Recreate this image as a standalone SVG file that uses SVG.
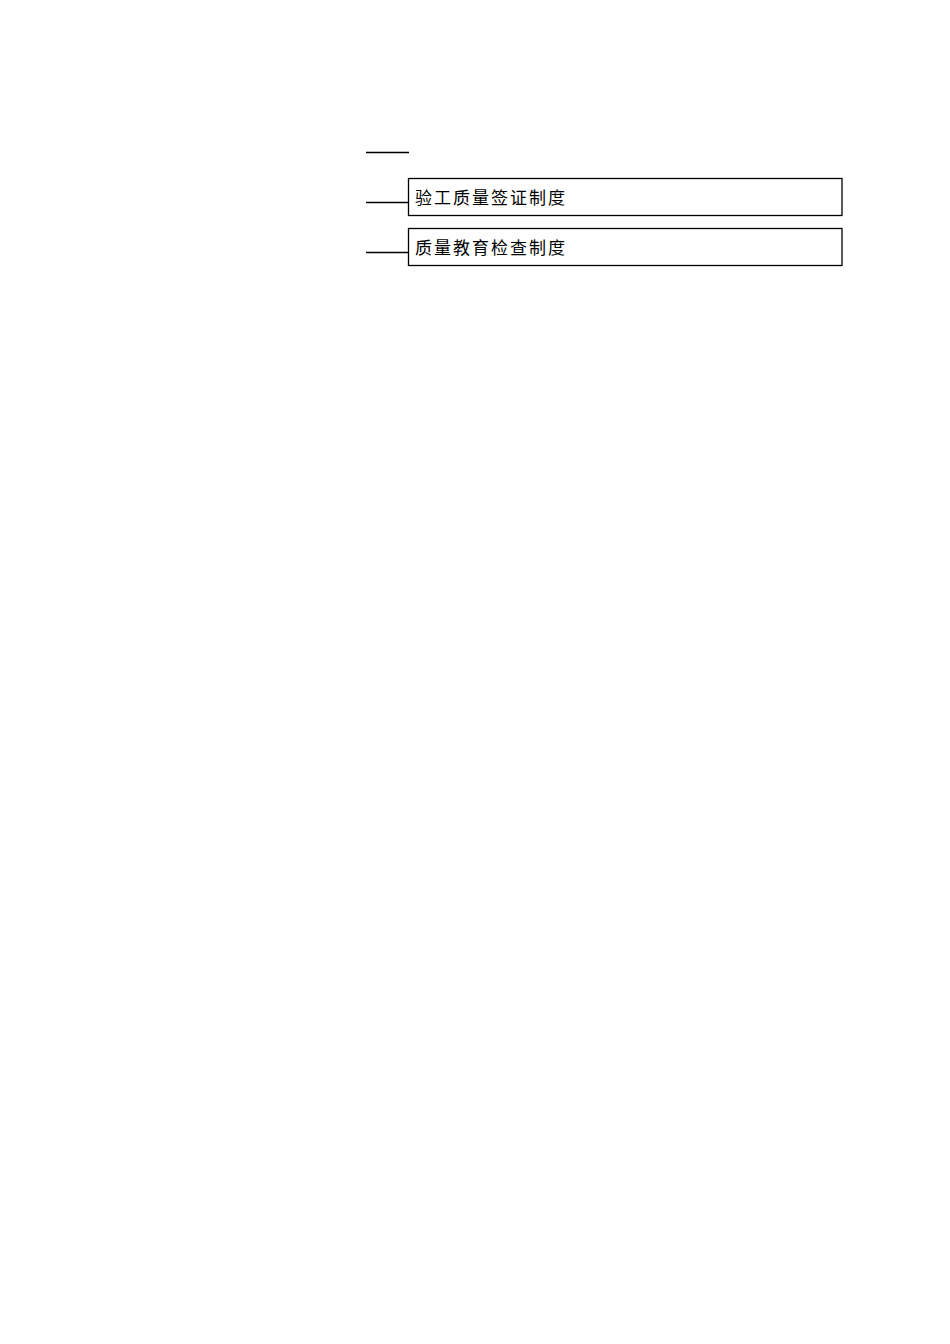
<svg xmlns="http://www.w3.org/2000/svg" width="950" height="1344" viewBox="0 0 950 1344">
<style>
.box{fill:#fff;stroke:#000;stroke-width:1.3}
.ln{stroke:#000;stroke-width:1.3;fill:none}
.t{font-family:"Liberation Sans","Noto Sans CJK SC",sans-serif;font-size:17px;letter-spacing:2px;fill:#000}
</style>
<rect width="950" height="1344" fill="#fff"/>
<g id="connectors">
<line class="ln" x1="366" y1="152.5" x2="409" y2="152.5"/>
<line class="ln" x1="366" y1="202.5" x2="408" y2="202.5"/>
<line class="ln" x1="366" y1="252.5" x2="408" y2="252.5"/>
</g>
<g id="node1">
<rect class="box" x="408.5" y="178.5" width="433.5" height="37"/>
<text class="t" x="415" y="204">验工质量签证制度</text>
</g>
<g id="node2">
<rect class="box" x="408.5" y="228.5" width="433.5" height="37"/>
<text class="t" x="415" y="254">质量教育检查制度</text>
</g>
</svg>
